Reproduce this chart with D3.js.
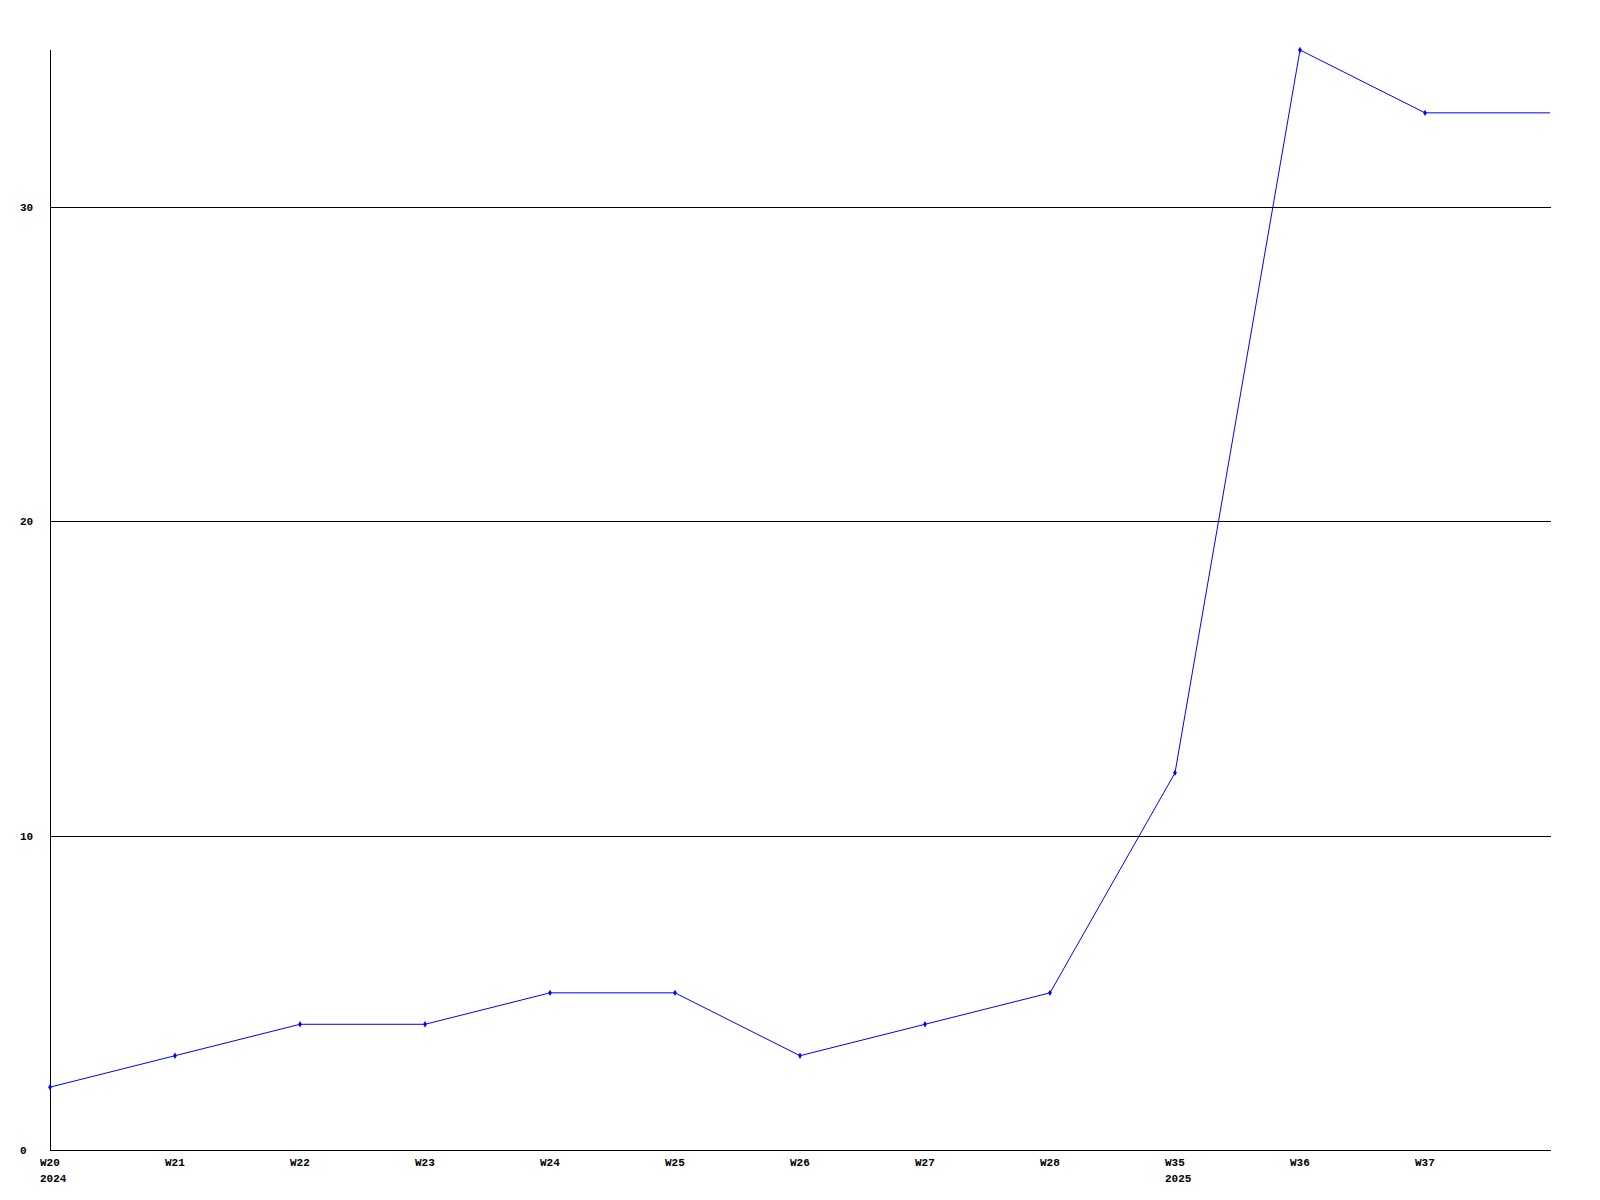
<!DOCTYPE html>
<html><head><meta charset="utf-8">
<script src="https://cdn.jsdelivr.net/npm/d3@7"></script>
<style>
body{margin:0;background:#fff;}
svg text{font-family:"Liberation Mono","DejaVu Sans Mono",monospace;font-weight:bold;font-size:11px;fill:#000;}
</style></head>
<body>
<svg id="c" width="1600" height="1200"></svg>
<script>
const categories = ["W20","W21","W22","W23","W24","W25","W26","W27","W28","W35","W36","W37",""];
const yearLabels = ["2024","","","","","","","","","2025","","",""];
const values = [2,3,4,4,5,5,3,4,5,12,35,33,33];
const markerShown = [1,1,1,1,1,1,1,1,1,1,1,1,0];
const yTicks = [0,10,20,30];

(function(){
const svg = d3.select("#c");
const pL = 50, pR = 1551, pT = 50, pB = 1150;
const x = d3.scalePoint().domain(d3.range(categories.length)).range([pL, pL + 125*12]);
const y = d3.scaleLinear().domain([0,35]).range([pB, pT]);

// grid lines
svg.append("g").selectAll("line").data(yTicks.filter(d=>d>0)).join("line")
  .attr("x1", pL).attr("x2", pR)
  .attr("y1", d=>Math.round(y(d))+0.5).attr("y2", d=>Math.round(y(d))+0.5)
  .attr("stroke","#000").attr("stroke-width",1);

// axes
svg.append("line").attr("x1",pL+0.5).attr("x2",pL+0.5).attr("y1",pT).attr("y2",pB+0.5).attr("stroke","#000");
svg.append("line").attr("x1",pL).attr("x2",pR).attr("y1",pB+0.5).attr("y2",pB+0.5).attr("stroke","#000");

// y labels
svg.append("g").selectAll("text").data(yTicks).join("text")
  .attr("x",20).attr("y",d=>y(d)).attr("dy","0.35em").text(d=>d);

// x labels
const xl = svg.append("g");
xl.selectAll("text.w").data(categories).join("text").attr("class","w")
  .attr("x",(d,i)=>x(i)-10).attr("y",1166).text(d=>d);
xl.selectAll("text.yr").data(yearLabels).join("text").attr("class","yr")
  .attr("x",(d,i)=>x(i)-10).attr("y",1182).text(d=>d);

// line
const line = d3.line().x((d,i)=>x(i)).y(d=>y(d));
svg.append("path").datum(values).attr("d",line).attr("fill","none").attr("stroke","#0000ff").attr("stroke-width",1);

// markers
const sym = d3.symbol().type(d3.symbolDiamond).size(12);
svg.append("g").selectAll("path").data(values.map((v,i)=>({v,i})).filter(d=>markerShown[d.i])).join("path")
  .attr("d",sym).attr("transform",d=>`translate(${x(d.i)},${y(d.v)})`).attr("fill","#0000ff");
})();
</script>
</body></html>
